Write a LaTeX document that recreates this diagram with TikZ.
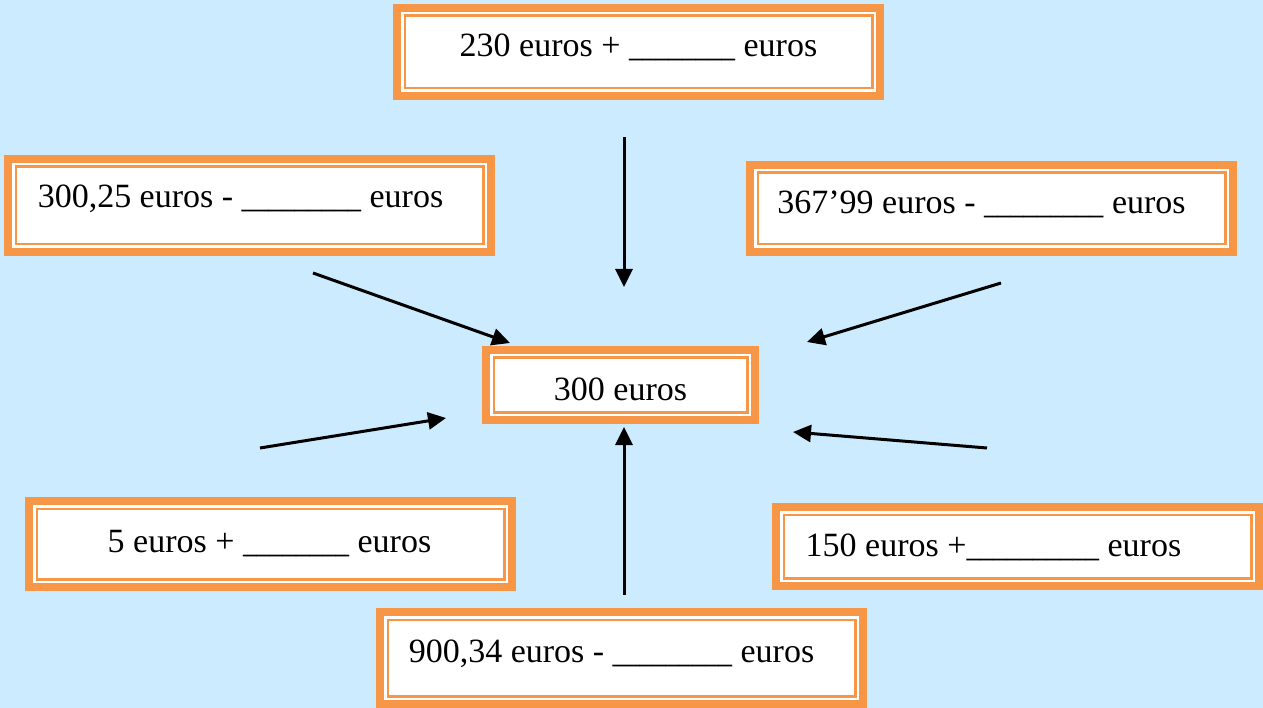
\documentclass[tikz,border=0pt]{standalone}
\usepackage{fontspec}
\setmainfont{Liberation Serif}
\usetikzlibrary{arrows.meta}
\definecolor{bgblue}{RGB}{204,235,254}
\definecolor{boxorange}{RGB}{247,150,70}
\newcommand{\ul}[1]{\scalebox{0.78}[1]{#1}}
\newcommand{\tx}[3]{\raisebox{#2}[0pt][0pt]{\hspace*{#1}#3\hspace*{-#1}}}
\tikzset{
  obox/.style={
    preaction={draw=boxorange, line width=23.5pt},
    preaction={draw=white, line width=7.5pt},
    draw=boxorange, line width=2.5pt, fill=white, inner sep=0pt,
    font=\fontsize{34}{40}\selectfont, minimum width=467.5pt},
  arr/.style={line width=3pt, -{Triangle[length=18pt,width=17pt]}}
}
\begin{document}
\begin{tikzpicture}[x=1pt,y=-1pt]
\useasboundingbox (0,0) rectangle (1263,708);
\fill[bgblue] (0,0) rectangle (1263,708);
\begin{scope}
\clip (0,0) rectangle (1263,708);
\node[obox, minimum height=72.5pt] (top) at (638.5,52) {\tx{0pt}{-5pt}{230 euros + \ul{\_\_\_\_\_\_\_\_} euros}};
\node[obox, minimum height=77.5pt] (lu) at (249.5,205.5) {\tx{-9pt}{-2.5pt}{300,25 euros - \ul{\_\_\_\_\_\_\_\_\_} euros}};
\node[obox, minimum height=71.5pt] (ru) at (991.5,208.5) {\tx{-10pt}{-5.5pt}{367’99 euros - \ul{\_\_\_\_\_\_\_\_\_} euros}};
\node[obox, minimum width=253.5pt, minimum height=54.5pt] (mid) at (620.5,385) {\tx{0pt}{-15pt}{300 euros}};
\node[obox, minimum height=70.5pt] (ll) at (270.5,544) {\tx{-1pt}{-8pt}{5 euros + \ul{\_\_\_\_\_\_\_\_} euros}};
\node[obox, minimum height=63.5pt] (rl) at (1017.5,546.5) {\tx{-24pt}{-10pt}{150 euros +\ul{\_\_\_\_\_\_\_\_\_\_} euros}};
\node[obox, minimum height=76.5pt] (bot) at (621.5,658) {\tx{-10pt}{-4pt}{900,34 euros - \ul{\_\_\_\_\_\_\_\_\_} euros}};
\end{scope}
\coordinate (a1s) at (624,137);  \coordinate (a1e) at (624,287);
\coordinate (a2s) at (313,273);  \coordinate (a2e) at (510,343);
\coordinate (a3s) at (1001,283); \coordinate (a3e) at (807,342);
\coordinate (a4s) at (260,448);  \coordinate (a4e) at (446,418);
\coordinate (a5s) at (987,448);  \coordinate (a5e) at (793,432);
\coordinate (a6s) at (624,595);  \coordinate (a6e) at (624,427);
\draw[arr] (a1s) -- (a1e);
\draw[arr] (a2s) -- (a2e);
\draw[arr] (a3s) -- (a3e);
\draw[arr] (a4s) -- (a4e);
\draw[arr] (a5s) -- (a5e);
\draw[arr] (a6s) -- (a6e);
\end{tikzpicture}
\end{document}
